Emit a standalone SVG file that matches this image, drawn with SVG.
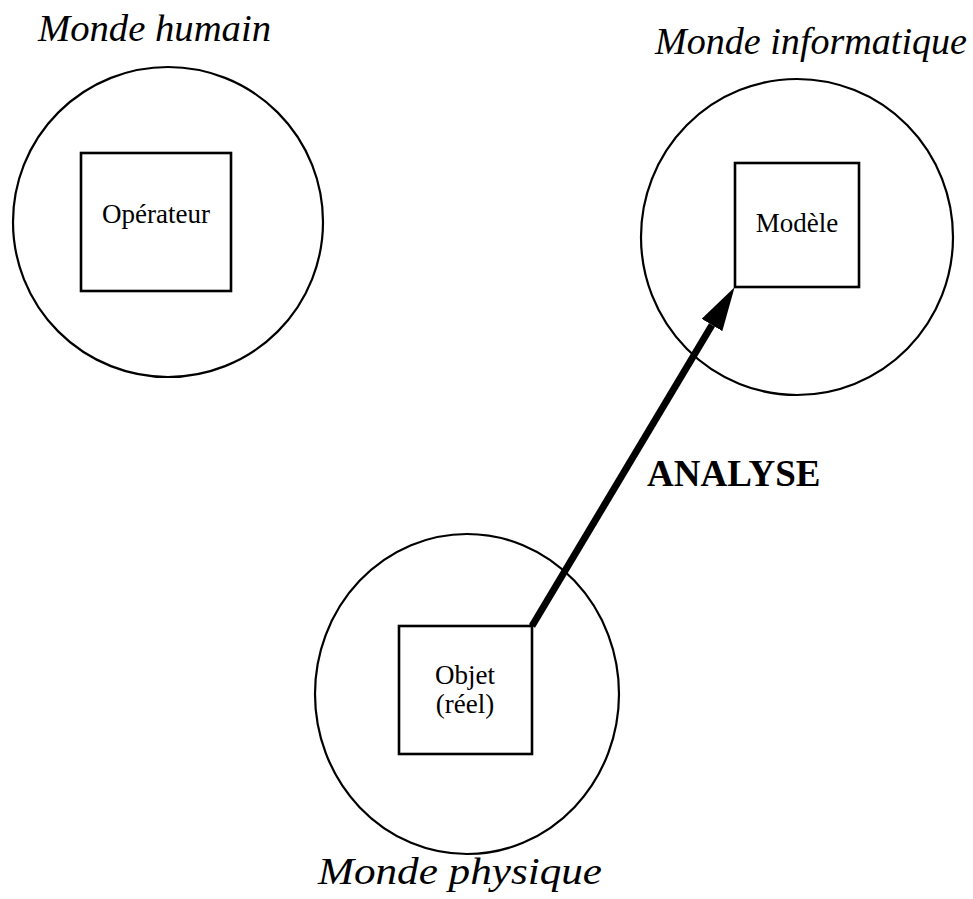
<svg xmlns="http://www.w3.org/2000/svg" width="973" height="899" viewBox="0 0 973 899">
<defs>
<style>
.world{fill:none;stroke:#000;stroke-width:2.2}
.box{fill:#fff;stroke:#000;stroke-width:2.6}
.lbl{font-family:"Liberation Serif","Times New Roman",serif;font-style:italic;font-size:38px;fill:#000}
.txt{font-family:"Liberation Serif","Times New Roman",serif;font-size:27px;fill:#000;text-anchor:middle}
.big{font-family:"Liberation Serif","Times New Roman",serif;font-weight:bold;font-size:37px;fill:#000}
</style>
<marker id="head" markerUnits="userSpaceOnUse" markerWidth="45" markerHeight="24" refX="0" refY="12" orient="auto">
<path d="M0,0 L44,12 L0,24 z" fill="#000"/>
</marker>
</defs>
<rect width="973" height="899" fill="#fff"/>
<g id="monde-humain">
<ellipse class="world" cx="168" cy="222" rx="155" ry="155"/>
<text class="lbl" x="38" y="41" textLength="233" lengthAdjust="spacingAndGlyphs">Monde humain</text>
</g>
<g id="operateur">
<rect class="box" x="81" y="153" width="150" height="138"/>
<text class="txt" x="156" y="223">Opérateur</text>
</g>
<g id="monde-informatique">
<ellipse class="world" cx="797" cy="237" rx="156" ry="158"/>
<text class="lbl" x="655" y="54" textLength="312" lengthAdjust="spacingAndGlyphs">Monde informatique</text>
</g>
<g id="modele">
<rect class="box" x="735" y="163" width="124" height="124"/>
<text class="txt" x="797" y="232">Modèle</text>
</g>
<g id="monde-physique">
<ellipse class="world" cx="467" cy="694" rx="152" ry="160"/>
<text class="lbl" x="318" y="884" textLength="284" lengthAdjust="spacingAndGlyphs">Monde physique</text>
</g>
<g id="objet">
<rect class="box" x="399" y="626" width="133" height="128"/>
<text class="txt" x="465" y="684">Objet</text>
<text class="txt" x="465" y="713">(réel)</text>
</g>
<g id="connectors">
<line x1="532" y1="626" x2="712" y2="325" stroke="#000" stroke-width="7" marker-end="url(#head)"/>
</g>
<text class="big" x="647" y="486">ANALYSE</text>
</svg>
